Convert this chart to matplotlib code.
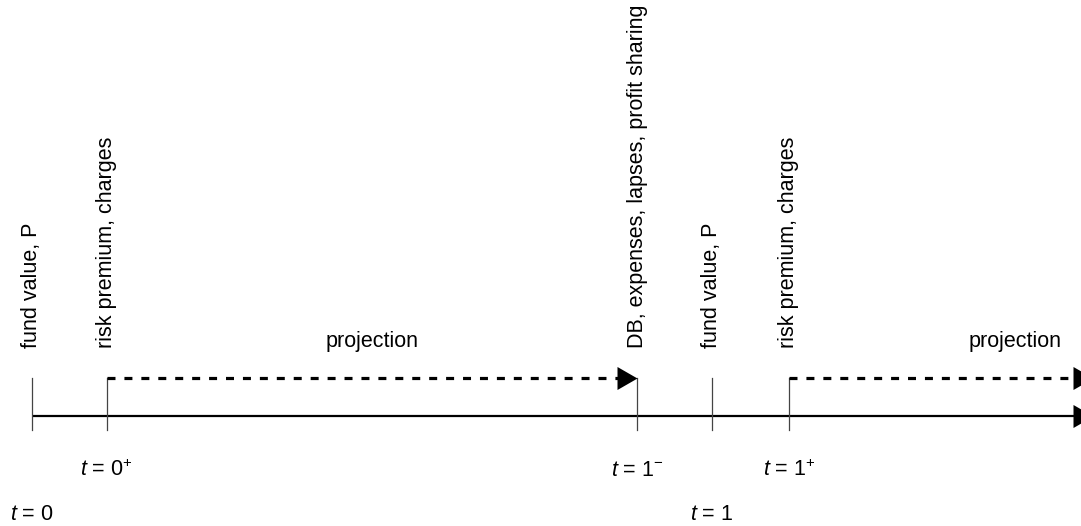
import matplotlib
matplotlib.use("Agg")
import matplotlib.pyplot as plt

plt.rcParams['font.family'] = ['Liberation Sans', 'DejaVu Sans']
plt.rcParams['mathtext.fontset'] = 'custom'
plt.rcParams['mathtext.rm'] = 'Liberation Sans'
plt.rcParams['mathtext.it'] = 'Liberation Sans:italic'
plt.rcParams['mathtext.sf'] = 'Liberation Sans'

# ---- data: time points of the timeline ----
time_points = [0.0, 0.11, 0.89, 1.0, 1.113]
event_labels = ["fund value, P", "risk premium, charges",
                "DB, expenses, lapses, profit sharing",
                "fund value, P", "risk premium, charges"]
time_labels = [r"$t$ = 0", r"$t$ = 0$^{+}$", r"$t$ = 1$^{-}$", r"$t$ = 1", r"$t$ = 1$^{+}$"]
time_label_row = [1, 0, 0, 1, 0]        # 0 = upper row, 1 = lower row
projection_spans = [(0.11, 0.89), (1.113, 1.56)]
projection_label_x = [0.5, 1.445]
axis_end = 1.56

# ---- layout (pixel-like vertical coordinates, top = 0) ----
W, H = 1081, 526
fig = plt.figure(figsize=(W / 100, H / 100), dpi=100)
ax = fig.add_axes([0, 0, 1, 1])
ax.set_xlim(-32 / 680, (W - 32) / 680)
ax.set_ylim(H, 0)
ax.axis('off')

axis_y, dash_y, tick_bot = 416, 378, 430
label_bot = 348
row_y = [470, 515]
proj_y = 347
fs = 15.5

head = [(0, 0), (-20, -11.5), (-20, 11.5)]
ms = 2 * 20 * 0.72  # points, marker verts normalised to max extent

def arrow_head(x, y):
    ax.plot([x], [y], marker=head, markersize=ms, color='black',
            markeredgewidth=0, linestyle='none')

# main axis
ax.plot([time_points[0], axis_end], [axis_y, axis_y], color='black', lw=1.6,
        solid_capstyle='butt')
arrow_head(axis_end, axis_y)

# tick lines
for t in time_points:
    ax.plot([t, t], [dash_y, tick_bot], color='#444444', lw=0.9)

# projection dashed arrows
for (a, b), lx in zip(projection_spans, projection_label_x):
    ax.plot([a, b - 18 / 680], [dash_y, dash_y], color='black', lw=2.3,
            dashes=(2.5, 2.8), solid_capstyle='butt', dash_capstyle='butt')
    arrow_head(b, dash_y)
    ax.text(lx, proj_y, "projection", ha='center', va='baseline', fontsize=fs)

# vertical event labels
for t, lab in zip(time_points, event_labels):
    ax.text(t, label_bot, lab, rotation=90, ha='center', va='bottom', fontsize=fs)

# time labels
for t, lab, r in zip(time_points, time_labels, time_label_row):
    ax.text(t, row_y[r], lab, ha='center', va='center', fontsize=fs)

fig.savefig("out.png", dpi=100)
